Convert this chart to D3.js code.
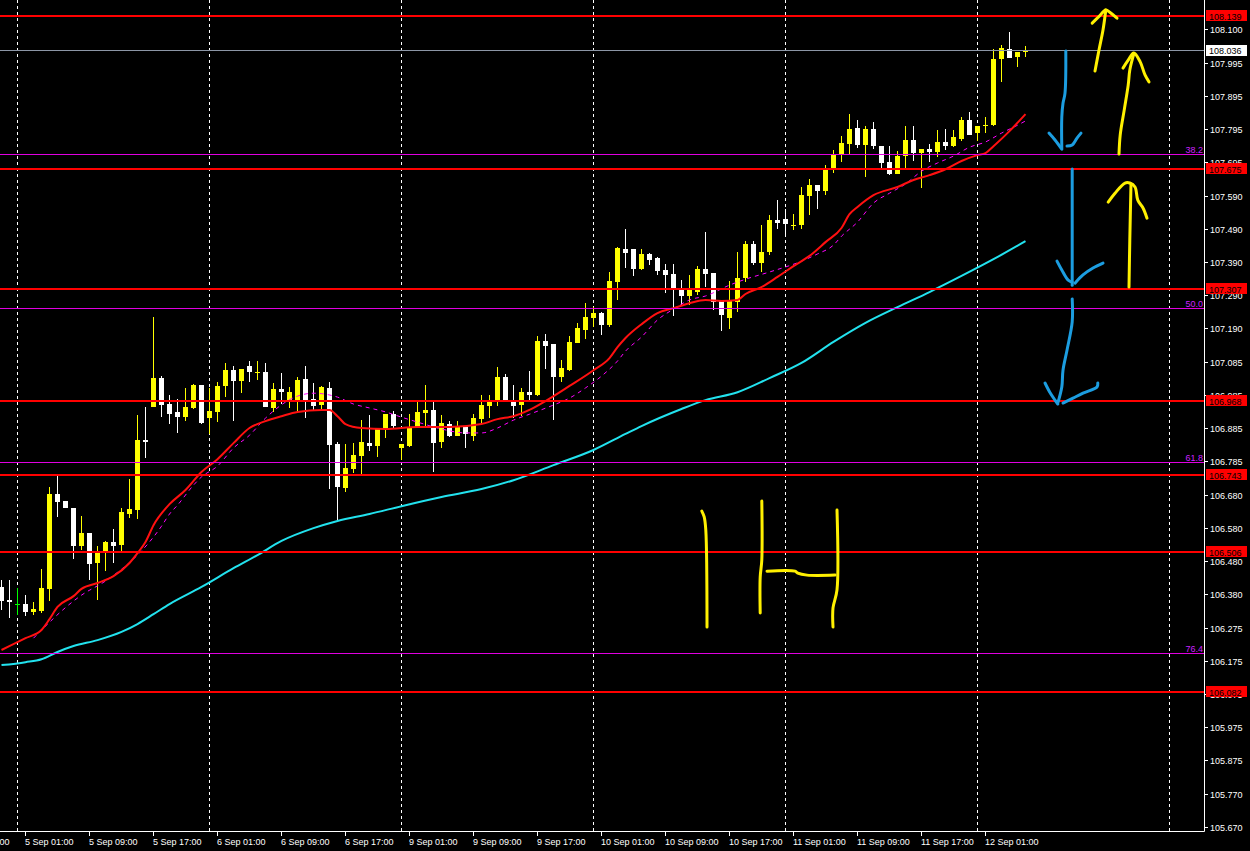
<!DOCTYPE html>
<html>
<head>
<meta charset="utf-8">
<script src="https://cdnjs.cloudflare.com/ajax/libs/d3/7.8.5/d3.min.js"></script>
<style>
  body { margin: 0; background: #000; overflow: hidden; }
  text { font-family: "Liberation Sans", Arial, sans-serif; font-size: 9px; }
</style>
</head>
<body>
<script>
var width = 1250;
var height = 851;
var plotRight = 1204;
var plotBottom = 831;

// H1 bars, index 0 = 4 Sep 22:00
var opens = [106.401,106.361,106.349,106.349,106.324,106.328,106.395,106.684,106.663,106.641,
  106.525,106.565,106.474,106.507,106.538,106.529,106.623,106.635,106.848,106.949,
  107.037,106.958,106.934,106.918,106.946,107.016,106.915,106.934,107.013,107.061,
  107.028,107.074,107.054,107.055,106.946,107.004,106.970,106.970,107.034,106.973,
  106.955,107.007,106.836,106.702,106.760,106.800,106.839,106.830,106.885,106.927,
  106.824,106.830,106.888,106.930,106.940,106.842,106.897,106.860,106.888,106.860,
  106.912,106.952,106.967,107.040,106.970,106.955,106.994,106.985,107.150,107.141,
  107.040,107.061,107.144,107.183,107.220,107.235,107.198,107.329,107.430,107.430,
  107.369,107.415,107.402,107.366,107.354,107.311,107.287,107.299,107.369,107.357,
  107.272,107.220,107.268,107.342,107.445,107.387,107.421,107.518,107.521,107.500,
  107.503,107.591,107.625,107.606,107.670,107.716,107.750,107.798,107.747,107.795,
  107.743,107.695,107.658,107.713,107.762,107.722,107.734,107.725,107.756,107.743,
  107.765,107.823,107.783,107.804,107.807,108.008,108.039,108.014,108.030];
var highs = [106.422,106.422,106.398,106.376,106.355,106.455,106.705,106.745,106.663,106.641,
  106.617,106.565,106.525,106.541,106.577,106.641,106.729,106.924,106.949,107.223,
  107.043,106.985,106.973,107.007,107.019,107.016,107.007,107.025,107.083,107.074,
  107.064,107.089,107.089,107.083,107.022,107.052,107.010,107.040,107.074,107.022,
  107.013,107.025,106.842,106.836,106.839,106.909,106.924,106.885,106.927,106.937,
  106.836,106.927,106.964,107.016,106.967,106.924,106.906,106.906,106.891,106.927,
  106.985,106.985,107.071,107.049,107.016,107.007,107.059,107.165,107.171,107.141,
  107.092,107.165,107.205,107.266,107.253,107.238,107.360,107.436,107.491,107.430,
  107.430,107.418,107.405,107.384,107.384,107.335,107.351,107.378,107.482,107.357,
  107.272,107.332,107.421,107.454,107.454,107.503,107.533,107.579,107.552,107.536,
  107.619,107.643,107.625,107.686,107.731,107.774,107.841,107.823,107.804,107.817,
  107.743,107.743,107.728,107.804,107.804,107.734,107.750,107.792,107.795,107.792,
  107.832,107.847,107.804,107.832,108.039,108.051,108.091,108.030,108.048];
var lows = [106.331,106.306,106.315,106.312,106.315,106.321,106.358,106.614,106.641,106.486,
  106.513,106.422,106.361,106.449,106.474,106.510,106.611,106.608,106.793,106.949,
  106.918,106.897,106.870,106.906,106.943,106.897,106.867,106.903,106.979,106.906,
  106.991,107.025,107.031,106.949,106.934,106.958,106.946,106.930,106.915,106.937,
  106.940,106.699,106.605,106.690,106.748,106.745,106.815,106.796,106.854,106.885,
  106.788,106.827,106.888,106.888,106.751,106.824,106.857,106.860,106.824,106.845,
  106.900,106.915,106.952,106.967,106.915,106.921,106.967,106.982,107.064,106.909,
  107.025,107.058,107.144,107.156,107.192,107.168,107.192,107.275,107.372,107.348,
  107.366,107.381,107.351,107.296,107.226,107.259,107.259,107.290,107.314,107.244,
  107.180,107.186,107.238,107.329,107.381,107.360,107.412,107.491,107.466,107.488,
  107.491,107.533,107.552,107.594,107.661,107.695,107.719,107.737,107.649,107.734,
  107.670,107.655,107.658,107.673,107.698,107.616,107.695,107.710,107.731,107.740,
  107.759,107.777,107.759,107.783,107.804,107.938,108.011,107.984,108.014];
var closes = [106.358,106.355,106.349,106.324,106.334,106.398,106.684,106.659,106.641,106.525,
  106.565,106.471,106.510,106.538,106.525,106.629,106.638,106.848,106.842,107.037,
  106.955,106.927,106.918,106.949,107.016,106.900,106.937,107.013,107.061,107.028,
  107.064,107.055,107.057,106.949,107.004,106.994,106.994,107.031,106.970,106.952,
  107.010,106.833,106.705,106.763,106.803,106.842,106.830,106.885,106.927,106.891,
  106.836,106.888,106.934,106.940,106.839,106.900,106.860,106.891,106.867,106.915,
  106.955,106.970,107.040,106.967,106.952,106.994,106.985,107.150,107.134,107.040,
  107.068,107.147,107.189,107.223,107.235,107.198,107.332,107.433,107.418,107.369,
  107.415,107.396,107.363,107.351,107.311,107.287,107.305,107.369,107.354,107.268,
  107.229,107.272,107.342,107.445,107.387,107.421,107.518,107.509,107.506,107.503,
  107.594,107.625,107.606,107.673,107.716,107.753,107.795,107.747,107.795,107.743,
  107.692,107.658,107.713,107.762,107.722,107.734,107.725,107.756,107.743,107.771,
  107.823,107.777,107.804,107.807,108.008,108.042,108.011,108.030,108.036];

// moving averages: [bar, price]
var redMA = [[0,106.209],[3,106.245],[5,106.270],[6,106.303],[7,106.340],[9,106.373],[10,106.395],[12,106.413],
  [14,106.434],[16,106.474],[17,106.504],[18,106.538],[19,106.589],[21,106.653],[23,106.696],[25,106.751],
  [27,106.790],[29,106.839],[31,106.885],[33,106.906],[35,106.921],[37,106.934],[40,106.940],[41,106.940],
  [42,106.921],[43,106.897],[45,106.885],[48,106.882],[52,106.888],[56,106.888],[60,106.897],[62,106.912],
  [64,106.921],[66,106.940],[68,106.967],[71,107.013],[74,107.061],[76,107.098],[77,107.131],[78,107.159],
  [80,107.201],[82,107.235],[84,107.250],[86,107.265],[88,107.275],[90,107.272],[92,107.275],[93,107.293],
  [95,107.314],[97,107.345],[99,107.378],[101,107.409],[103,107.451],[105,107.494],[106,107.536],[107,107.558],
  [109,107.594],[112,107.619],[114,107.640],[116,107.655],[118,107.673],[120,107.698],[122,107.716],[123,107.722],
  [124,107.743],[126,107.789],[128,107.841]];
var magentaMA = [[4,106.245],[9,106.358],[10,106.376],[13,106.419],[15,106.455],[17,106.498],[20,106.586],[21,106.623],
  [22,106.650],[24,106.711],[25,106.736],[27,106.769],[29,106.824],[31,106.863],[33,106.915],[37,106.982],
  [39,106.991],[42,106.979],[44,106.958],[46,106.946],[48,106.934],[50,106.918],[52,106.903],[55,106.882],
  [58,106.870],[60,106.870],[62,106.885],[64,106.909],[66,106.927],[69,106.955],[71,106.976],[73,107.007],
  [75,107.043],[77,107.089],[78,107.119],[80,107.162],[82,107.214],[84,107.247],[86,107.275],[88,107.287],
  [91,107.320],[93,107.338],[96,107.360],[100,107.393],[102,107.415],[104,107.442],[105,107.469],[107,107.512],
  [109,107.570],[111,107.600],[113,107.628],[115,107.667],[117,107.692],[119,107.713],[121,107.740],[123,107.756],
  [125,107.783],[127,107.807],[128,107.820]];
var cyanMA = [[0,106.163],[3,106.172],[5,106.181],[7,106.203],[9,106.221],[12,106.239],[15,106.264],[17,106.288],
  [19,106.318],[21,106.349],[25,106.401],[29,106.458],[32,106.498],[35,106.541],[39,106.580],[42,106.602],
  [46,106.623],[50,106.647],[55,106.675],[60,106.699],[64,106.726],[69,106.772],[74,106.818],[78,106.867],
  [80,106.891],[85,106.943],[88,106.970],[92,106.994],[96,107.037],[100,107.083],[104,107.147],[108,107.205],
  [112,107.253],[116,107.299],[120,107.348],[124,107.399],[128,107.454]];

var redLevels = [108.139, 107.675, 107.307, 106.968, 106.743, 106.506, 106.082];
var bidPrice = 108.036;
var fibNames = ["38.2", "50.0", "61.8", "76.4"];
var fibPrices = [107.719, 107.250, 106.782, 106.200];

var priceTicks = [108.100, 107.995, 107.895, 107.795, 107.695, 107.590, 107.490, 107.390, 107.290, 107.190,
  107.085, 106.985, 106.885, 106.785, 106.680, 106.580, 106.480, 106.380, 106.275, 106.175,
  106.075, 105.975, 105.875, 105.770, 105.670];
var timeLabels = ["4 Sep 17:00", "5 Sep 01:00", "5 Sep 09:00", "5 Sep 17:00", "6 Sep 01:00", "6 Sep 09:00",
  "6 Sep 17:00", "9 Sep 01:00", "9 Sep 09:00", "9 Sep 17:00", "10 Sep 01:00", "10 Sep 09:00",
  "10 Sep 17:00", "11 Sep 01:00", "11 Sep 09:00", "11 Sep 17:00", "12 Sep 01:00"];
var timeLabelBars = [-5, 3, 11, 19, 27, 35, 43, 51, 59, 67, 75, 83, 91, 99, 107, 115, 123];
var dayBars = [2, 26, 50, 74, 98, 122, 146];

// hand drawn marks on the chart, [bar, price]
var yellowStrokes = [
  [[136.75,107.972],[137.25,108.036],[137.75,108.097],[138.1,108.158]],
  [[136.4,108.118],[137.25,108.138],[138.1,108.158],[138.6,108.151],[139.5,108.133]],
  [[139.75,107.719],[139.9,107.777],[140.4,107.853],[140.9,107.929],[141.1,107.975],[141.6,108.024]],
  [[140.25,107.981],[140.9,108.005],[141.6,108.027],[142.4,108.000],[143.0,107.960],[143.5,107.939]],
  [[141.0,107.314],[141.1,107.457],[141.25,107.628]],
  [[138.4,107.573],[139.25,107.600],[140.5,107.631],[141.1,107.631],[141.75,107.619],[142.1,107.579],[142.75,107.555],[143.25,107.524]],
  [[87.6,106.632],[87.9,106.614],[88.1,106.574],[88.25,106.279]],
  [[95.1,106.663],[95.1,106.483],[94.9,106.431],[94.9,106.322]],
  [[95.75,106.449],[99.25,106.449],[99.6,106.443],[100.75,106.437],[104.25,106.437]],
  [[104.5,106.635],[104.5,106.392],[104.0,106.337],[104.0,106.279]]
];
var blueStrokes = [
  [[133.1,108.033],[133.0,107.905],[132.75,107.874],[132.6,107.832],[132.6,107.737]],
  [[131.0,107.783],[131.75,107.762],[132.6,107.734]],
  [[133.25,107.744],[133.9,107.747],[134.5,107.768],[135.0,107.783]],
  [[133.9,107.674],[133.9,107.320]],
  [[132.0,107.393],[132.6,107.366],[133.4,107.335],[133.9,107.329]],
  [[134.25,107.326],[135.25,107.351],[136.5,107.372],[137.75,107.387]],
  [[133.9,107.278],[133.9,107.208],[133.25,107.122],[132.75,107.061],[132.6,107.010],[132.1,106.961]],
  [[130.5,107.022],[131.1,106.994],[131.75,106.970],[132.1,106.958]],
  [[132.75,106.961],[134.0,106.976],[135.25,106.991],[137.0,107.010],[137.1,107.022]]
];

var x = d3.scaleLinear().domain([0, 128]).range([1, 1025]);
var y = d3.scaleLinear().domain([105.670, 108.100]).range([827, 29]);

var svg = d3.select("body")
            .append("svg")
            .attr("width", width)
            .attr("height", height)
            .style("background", "#000");

svg.append("clipPath")
   .attr("id", "plot")
   .append("rect")
   .attr("x", 0).attr("y", 0)
   .attr("width", plotRight).attr("height", plotBottom);

var plot = svg.append("g").attr("clip-path", "url(#plot)");

// day separators
plot.selectAll("line.day")
    .data(dayBars)
    .enter()
    .append("line")
    .attr("x1", function(d) { return x(d) + 0.5; })
    .attr("x2", function(d) { return x(d) + 0.5; })
    .attr("y1", 0)
    .attr("y2", plotBottom)
    .attr("stroke", "#fff")
    .attr("stroke-width", 1)
    .attr("stroke-dasharray", "3,3")
    .attr("shape-rendering", "crispEdges");

// candles
var bars = d3.range(opens.length).map(function(i) {
  return { i: i, o: opens[i], h: highs[i], l: lows[i], c: closes[i] };
});
function barColor(d) {
  if (d.c > d.o) return "#ffff00";
  if (d.c < d.o) return "#ffffff";
  return "#00ff00";
}

var candles = plot.selectAll("g.candle")
                  .data(bars)
                  .enter()
                  .append("g")
                  .attr("shape-rendering", "crispEdges");

candles.append("line")
       .attr("x1", function(d) { return Math.round(x(d.i)) + 0.5; })
       .attr("x2", function(d) { return Math.round(x(d.i)) + 0.5; })
       .attr("y1", function(d) { return y(d.h); })
       .attr("y2", function(d) { return y(d.l); })
       .attr("stroke", barColor)
       .attr("stroke-width", 1);

candles.append("rect")
       .attr("x", function(d) { return Math.round(x(d.i)) - 2; })
       .attr("y", function(d) { return y(Math.max(d.o, d.c)); })
       .attr("width", 5)
       .attr("height", function(d) { return Math.max(1, y(Math.min(d.o, d.c)) - y(Math.max(d.o, d.c))); })
       .attr("fill", barColor);

// moving averages
var maLine = d3.line()
               .x(function(d) { return x(d[0]) + 0.5; })
               .y(function(d) { return y(d[1]); })
               .curve(d3.curveMonotoneX);

plot.append("path").attr("d", maLine(cyanMA))
    .attr("fill", "none").attr("stroke", "#22e2ee").attr("stroke-width", 2);
plot.append("path").attr("d", maLine(magentaMA))
    .attr("fill", "none").attr("stroke", "#ff00ff").attr("stroke-width", 1)
    .attr("stroke-dasharray", "4,4");
plot.append("path").attr("d", maLine(redMA))
    .attr("fill", "none").attr("stroke", "#ff1010").attr("stroke-width", 2);

// fibonacci levels
plot.selectAll("line.fib")
    .data(fibPrices)
    .enter()
    .append("line")
    .attr("x1", 0).attr("x2", plotRight)
    .attr("y1", function(d) { return Math.round(y(d)) + 0.5; })
    .attr("y2", function(d) { return Math.round(y(d)) + 0.5; })
    .attr("stroke", "#e000e0")
    .attr("stroke-width", 1);

svg.selectAll("text.fib")
   .data(fibPrices)
   .enter()
   .append("text")
   .text(function(d, i) { return fibNames[i]; })
   .attr("x", plotRight - 1)
   .attr("y", function(d) { return Math.round(y(d)) - 1; })
   .attr("text-anchor", "end")
   .attr("fill", "#cc22ff");

// bid line
plot.append("line")
    .attr("x1", 0).attr("x2", plotRight)
    .attr("y1", Math.round(y(bidPrice)) + 0.5)
    .attr("y2", Math.round(y(bidPrice)) + 0.5)
    .attr("stroke", "#8c96a6")
    .attr("stroke-width", 1);

// horizontal levels
plot.selectAll("line.level")
    .data(redLevels)
    .enter()
    .append("line")
    .attr("x1", 0).attr("x2", plotRight)
    .attr("y1", function(d) { return Math.round(y(d)); })
    .attr("y2", function(d) { return Math.round(y(d)); })
    .attr("stroke", "#ff0000")
    .attr("stroke-width", 2);

// drawings
var pen = d3.line()
            .x(function(d) { return x(d[0]); })
            .y(function(d) { return y(d[1]); })
            .curve(d3.curveCatmullRom);

plot.selectAll("path.yellow")
    .data(yellowStrokes)
    .enter()
    .append("path")
    .attr("d", pen)
    .attr("fill", "none")
    .attr("stroke", "#fff000")
    .attr("stroke-width", 3)
    .attr("stroke-linecap", "round")
    .attr("stroke-linejoin", "round");

plot.selectAll("path.blue")
    .data(blueStrokes)
    .enter()
    .append("path")
    .attr("d", pen)
    .attr("fill", "none")
    .attr("stroke", "#1c9de0")
    .attr("stroke-width", 3)
    .attr("stroke-linecap", "round")
    .attr("stroke-linejoin", "round");

// frame
svg.append("path")
   .attr("d", "M" + (plotRight + 0.5) + ",0V" + (plotBottom + 0.5) + "H0")
   .attr("fill", "none")
   .attr("stroke", "#fff")
   .attr("stroke-width", 1);

// price axis
var yAxis = svg.append("g");
yAxis.selectAll("line")
     .data(priceTicks)
     .enter()
     .append("line")
     .attr("x1", plotRight).attr("x2", plotRight + 4)
     .attr("y1", function(d) { return Math.round(y(d)) + 0.5; })
     .attr("y2", function(d) { return Math.round(y(d)) + 0.5; })
     .attr("stroke", "#fff");
yAxis.selectAll("text")
     .data(priceTicks)
     .enter()
     .append("text")
     .text(function(d) { return d.toFixed(3); })
     .attr("x", 1210)
     .attr("y", function(d) { return y(d) + 4; })
     .attr("fill", "#fff");

// time axis
var xAxis = svg.append("g");
xAxis.selectAll("line")
     .data(timeLabelBars)
     .enter()
     .append("line")
     .attr("x1", function(d) { return x(d) + 0.5; })
     .attr("x2", function(d) { return x(d) + 0.5; })
     .attr("y1", plotBottom).attr("y2", plotBottom + 5)
     .attr("stroke", "#fff");
xAxis.selectAll("text")
     .data(timeLabelBars)
     .enter()
     .append("text")
     .text(function(d, i) { return timeLabels[i]; })
     .attr("x", function(d) { return x(d); })
     .attr("y", 845)
     .attr("fill", "#fff");

// price labels on the axis
var tags = svg.selectAll("g.tag")
              .data(redLevels)
              .enter()
              .append("g");
tags.append("rect")
    .attr("x", 1206).attr("width", 41)
    .attr("y", function(d) { return Math.round(y(d)) - 6; })
    .attr("height", 11)
    .attr("fill", "#ff0000");
tags.append("text")
    .text(function(d) { return d.toFixed(3); })
    .attr("x", 1209)
    .attr("y", function(d) { return Math.round(y(d)) + 3.5; })
    .attr("fill", "#000");

svg.append("rect")
   .attr("x", 1206).attr("width", 41)
   .attr("y", Math.round(y(bidPrice)) - 5)
   .attr("height", 11)
   .attr("fill", "#fff");
svg.append("text")
   .text(bidPrice.toFixed(3))
   .attr("x", 1209)
   .attr("y", Math.round(y(bidPrice)) + 4)
   .attr("fill", "#000");
</script>
</body>
</html>
